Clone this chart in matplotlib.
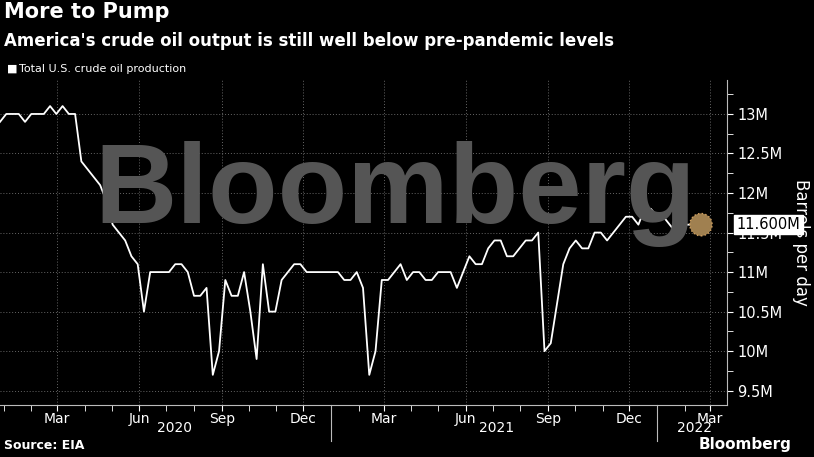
import matplotlib
matplotlib.use("Agg")
import matplotlib.pyplot as plt
import matplotlib.dates as mdates
import numpy as np
import datetime as dt

start = dt.date(2019, 12, 28)
values = [12.9,13.0,13.0,13.0,12.9,13.0,13.0,13.0,13.1,13.0,13.1,13.0,13.0,12.4,12.3,12.2,12.1,11.9,11.6,11.5,
          11.4,11.2,11.1,10.5,11.0,11.0,11.0,11.0,11.1,11.1,11.0,10.7,10.7,10.8,9.7,10.0,10.9,10.7,10.7,11.0,
          10.5,9.9,11.1,10.5,10.5,10.9,11.0,11.1,11.1,11.0,11.0,11.0,11.0,11.0,11.0,10.9,10.9,11.0,10.8,9.7,
          10.0,10.9,10.9,11.0,
          11.1,10.9,11.0,11.0,10.9,10.9,11.0,11.0,11.0,10.8,11.0,11.2,11.1,11.1,11.3,11.4,11.4,11.2,11.2,11.3,
          11.4,11.4,11.5,10.0,10.1,10.6,11.1,11.3,11.4,11.3,11.3,11.5,11.5,11.4,11.5,11.6,11.7,11.7,11.6,11.8,
          11.8,11.7,11.7,11.6,11.5,11.6,11.6,11.6,11.6]
dates = [start + dt.timedelta(weeks=i) for i in range(len(values))]
yticks = [9.5, 10, 10.5, 11, 11.5, 12, 12.5, 13]
ytick_labels = ["9.5M", "10M", "10.5M", "11M", "11.5M", "12M", "12.5M", "13M"]
years = ["2020", "2021", "2022"]

fig = plt.figure(figsize=(8.14, 4.57), dpi=100, facecolor="black")
ax = fig.add_axes([0.0, 0.114, 0.893, 0.711], facecolor="black")
ax.plot(dates, values, color="white", lw=1.3, zorder=3)
ax.set_ylim(9.32, 13.43)
ax.set_xlim(dt.date(2019, 12, 28), dt.date(2022, 3, 20))

ax.yaxis.tick_right()
ax.set_yticks(yticks)
ax.set_yticklabels(ytick_labels)
ax.set_yticks(np.arange(9.5, 13.5, 0.25), minor=True)
ax.tick_params(axis="y", colors="white", labelsize=10.5, length=4, direction="out", which="both")
ax.yaxis.set_label_position("right")
ax.set_ylabel("Barrels per day", color="white", fontsize=12, rotation=270, labelpad=20)

ax.xaxis.set_major_locator(mdates.MonthLocator(bymonth=[3, 6, 9, 12]))
ax.xaxis.set_major_formatter(mdates.DateFormatter("%b"))
ax.xaxis.set_minor_locator(mdates.MonthLocator())
ax.tick_params(axis="x", colors="white", labelsize=10, length=4, which="both", pad=1)
for s in ["top", "left"]:
    ax.spines[s].set_visible(False)
ax.spines["right"].set_color("#bbbbbb")
ax.spines["bottom"].set_color("#bbbbbb")
ax.grid(True, color="#666666", ls=(0, (1, 2)), lw=0.7)

ypos = -0.05
for yr, d in zip(years, [dt.date(2020, 7, 10), dt.date(2021, 7, 5), dt.date(2022, 2, 12)]):
    ax.text(mdates.date2num(d), ypos, yr, transform=ax.get_xaxis_transform(),
            color="white", fontsize=10, ha="center", va="top")
for d in [dt.date(2021, 1, 1), dt.date(2022, 1, 1)]:
    ax.axvline(mdates.date2num(d), ymin=-0.11, ymax=0, color="#bbbbbb", lw=0.8, clip_on=False)

# watermark
fig.text(0.485, 0.575, "Bloomberg", color="#555555", fontsize=82, fontweight="bold",
         ha="center", va="center", zorder=0, family="Liberation Sans")

# last point marker and label
ax.scatter([dates[-1]], [values[-1]], s=260, color="#a08050", edgecolor="#d0a060", ls=":", zorder=4)
ax.annotate(f"{values[-1]:.3f}M", xy=(1.0, values[-1]), xycoords=("axes fraction", "data"),
            xytext=(7, 0), textcoords="offset points", color="black", fontsize=10.5, va="center",
            bbox=dict(boxstyle="square,pad=0.15", fc="white", ec="white"))

fig.text(0.005, 0.995, "More to Pump", color="white", fontsize=15, fontweight="bold", va="top")
fig.text(0.005, 0.93, "America's crude oil output is still well below pre-pandemic levels", color="white",
         fontsize=12, fontweight="bold", va="top")
fig.text(0.008, 0.85, "■", color="white", fontsize=8, va="center")
fig.text(0.023, 0.85, "Total U.S. crude oil production", color="white", fontsize=8, va="center")
fig.text(0.005, 0.01, "Source: EIA", color="white", fontsize=9, fontweight="bold", va="bottom")
fig.text(0.972, 0.01, "Bloomberg", color="white", fontsize=11, fontweight="bold", va="bottom", ha="right")

fig.savefig("out.png", dpi=100, facecolor="black")
